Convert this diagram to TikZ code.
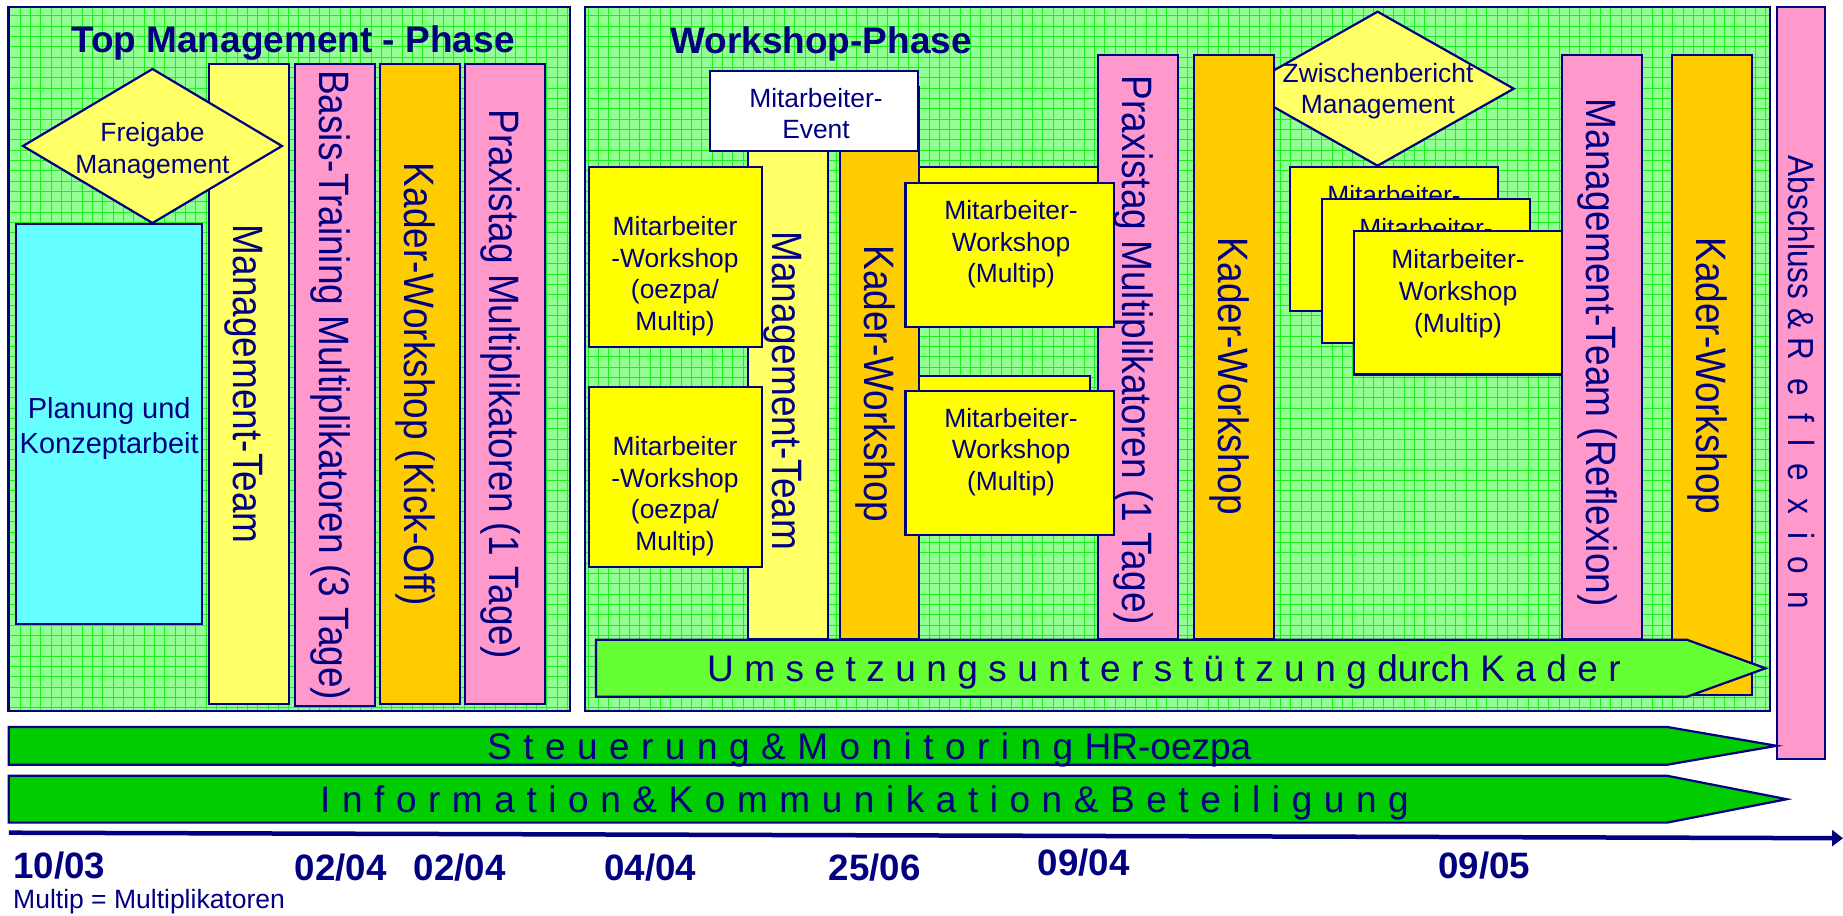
\documentclass[tikz,border=0pt]{standalone}
\usepackage{fontspec}
\setmainfont{Liberation Sans}
\usepackage{graphicx}
\usetikzlibrary{arrows.meta}
\definecolor{navy}{RGB}{0,0,128}
\definecolor{ltyellow}{RGB}{255,255,102}
\definecolor{pinkbar}{RGB}{255,153,204}
\definecolor{orangebar}{RGB}{255,204,0}
\definecolor{cyanbox}{RGB}{102,255,255}
\definecolor{yelbox}{RGB}{255,255,0}
\definecolor{limebar}{RGB}{102,255,51}
\definecolor{greenbar}{RGB}{0,204,0}
\definecolor{bggreen}{RGB}{145,255,145}
\definecolor{gridgreen}{RGB}{30,240,30}
\newcommand\vstretch[1]{\scalebox{1}[1.15]{#1}}
\newcommand\mkbox[6]{\node[blk,#2,minimum width={(#5)-(#3)},minimum height={(#6)-(#4)}] (#1) at (#3,#4) {};}
\tikzset{
  blk/.style={draw=navy, line width=2.2pt, inner sep=0pt, outer sep=0pt, anchor=north west},
  dia/.style={draw=navy, line width=2.2pt, fill=ltyellow, line join=miter},
  vtxt/.style={rotate=-90, anchor=base, text=navy, inner sep=0pt, font=\fontsize{37}{44}\selectfont},
  btxt/.style={text=navy, align=center, anchor=north, inner sep=0pt, font=\fontsize{26.4}{31.7}\selectfont},
  ptxt/.style={text=navy, align=center, anchor=north, inner sep=0pt, font=\fontsize{29}{35}\selectfont},
  ttl/.style={text=navy, anchor=base west, inner sep=0pt, font=\fontsize{37}{44}\selectfont\bfseries},
  datel/.style={text=navy, anchor=base west, inner sep=0pt, font=\fontsize{36.7}{44}\selectfont\bfseries},
  bantxt/.style={text=navy, anchor=base west, inner sep=0pt},
  banner/.style={draw=navy, line width=2.2pt, line join=miter},
  gridln/.style={draw=gridgreen, line width=0.9pt},
  timeline/.style={draw=navy, line width=4.5pt, -{Triangle[length=11pt,width=16pt]}}
}
\begin{document}
\begin{tikzpicture}[x=1pt,y=-1pt]
\useasboundingbox (0,0) rectangle (1843,915);
% ---------- panel backgrounds with grid ----------
\begin{scope}
  \clip (8.5,6.7) rectangle (570,711) (585,6.7) rectangle (1770,711);
  \fill[bggreen] (0,0) rectangle (1843,720);
  \foreach \k in {0,...,172} \draw[gridln] ({9.7+10.33*\k},0) -- ++(0,720);
  \foreach \k in {0,...,69} \draw[gridln] (0,{5.4+10.33*\k}) -- ++(1843,0);
\end{scope}
\mkbox{panelL}{}{8.5}{6.7}{570}{711}
\mkbox{panelW}{}{585}{6.7}{1770}{711}
\node[ttl] (ttlL) at (71,53) {Top Management - Phase};
\node[ttl] (ttlW) at (670,53.3) {Workshop-Phase};
% ---------- left panel ----------
\mkbox{mgmtL}{fill=ltyellow}{208.6}{64.3}{288.7}{704}
\node[vtxt] (mgmtLT) at (233.1,384.2) {\vstretch{Management-Team}};
\draw[dia] (23,146) -- (152.5,69) -- (282,146) -- (152.5,223) -- cycle;
\node[btxt] (freiT) at (152.5,122) {Freigabe\\Management};
\mkbox{plan}{fill=cyanbox}{16}{224}{202.3}{624}
\node[ptxt] (planT) at (109.2,397.5) {Planung und\\Konzeptarbeit};
\mkbox{basis}{fill=pinkbar}{294.7}{64.3}{375}{706}
\node[vtxt] (basisT) at (319.2,385.2) {\vstretch{Basis-Training Multiplikatoren (3 Tage)}};
\mkbox{kickoff}{fill=orangebar}{379.6}{64.3}{460}{704}
\node[vtxt] (kickoffT) at (404.1,384.2) {\vstretch{Kader-Workshop (Kick-Off)}};
\mkbox{praxL}{fill=pinkbar}{465}{64.3}{544.6}{704}
\node[vtxt] (praxLT) at (489.5,384.2) {\vstretch{Praxistag Multiplikatoren (1 Tage)}};
% ---------- workshop panel ----------
\mkbox{mgmtM}{fill=ltyellow}{748}{100}{828}{639.3}
\node[vtxt] (mgmtMT) at (772.5,390.9) {\vstretch{Management-Team}};
\mkbox{backT}{fill=yelbox}{880}{166.7}{1105}{310}
\mkbox{backB}{fill=yelbox}{880}{376}{1090}{520}
\mkbox{kaderM1}{fill=orangebar}{839.8}{86.7}{919.3}{639.3}
\node[vtxt] (kaderM1T) at (864.3,383.8) {\vstretch{Kader-Workshop}};
\mkbox{praxM}{fill=pinkbar}{1098}{55}{1178}{639.3}
\node[vtxt] (praxMT) at (1122.5,350.5) {\vstretch{Praxistag Multiplikatoren (1 Tage)}};
\mkbox{frontT}{fill=yelbox}{905.4}{182.7}{1113.8}{326.7}
\node[btxt] (frontTT) at (1011,200.1) {Mitarbeiter-\\Workshop\\(Multip)};
\mkbox{frontB}{fill=yelbox}{905.4}{390.7}{1113.8}{535.3}
\node[btxt] (frontBT) at (1011,407.8) {Mitarbeiter-\\Workshop\\(Multip)};
\mkbox{event}{fill=white}{709.7}{70.7}{918}{150.7}
\node[btxt] (eventT) at (816,87.8) {Mitarbeiter-\\Event};
\mkbox{mwL1}{fill=yelbox}{588.7}{166.7}{761.9}{346.7}
\node[btxt] (mwL1T) at (675,216.1) {Mitarbeiter\\-Workshop\\(oezpa/\\Multip)};
\mkbox{mwL2}{fill=yelbox}{588.7}{386.7}{761.9}{566.7}
\node[btxt] (mwL2T) at (675,436.1) {Mitarbeiter\\-Workshop\\(oezpa/\\Multip)};
\draw[dia] (1241.5,88.7) -- (1377.6,11.7) -- (1513.7,88.7) -- (1377.6,165.7) -- cycle;
\mkbox{kaderM2}{fill=orangebar}{1194}{55}{1274}{639.3}
\node[vtxt] (kaderM2T) at (1218.5,376.3) {\vstretch{Kader-Workshop}};
\node[btxt] (zwT) at (1378,62.8) {Zwischenbericht\\Management};
\mkbox{mwA}{fill=yelbox}{1290}{166.7}{1498.3}{311}
\node[btxt] (mwAT) at (1394,185.4) {Mitarbeiter-\\Workshop\\(Multip)};
\mkbox{mwB}{fill=yelbox}{1321.7}{199}{1530}{342.7}
\node[btxt] (mwBT) at (1426,217.7) {Mitarbeiter-\\Workshop\\(Multip)};
\mkbox{mwC}{fill=yelbox}{1354}{230.7}{1561.7}{374.5}
\node[btxt] (mwCT) at (1458,249.4) {Mitarbeiter-\\Workshop\\(Multip)};
\mkbox{reflex}{fill=pinkbar}{1561.7}{55}{1642}{639.3}
\node[vtxt] (reflexT) at (1586.2,352.7) {\vstretch{Management-Team (Reflexion)}};
\mkbox{kaderR}{fill=orangebar}{1671.7}{55}{1751.6}{695}
\node[vtxt] (kaderRT) at (1696.2,376) {\vstretch{Kader-Workshop}};
\draw[banner, fill=limebar] (596,639.7) -- (1686.7,639.7) -- (1765.5,668.3) -- (1686.7,696.8) -- (596,696.8) -- cycle;
\node[bantxt, font={\fontsize{37}{44}\selectfont\spaceskip=0.2824em\relax}] (umsT) at (707,681.7) {U m s e t z u n g s u n t e r s t ü t z u n g durch K a d e r};
% ---------- closing bar ----------
\mkbox{absch}{fill=pinkbar}{1776.7}{6.7}{1825}{759}
\node[vtxt, font=\fontsize{31.5}{38}\selectfont] (abschT) at (1788,382.5) {\vstretch{Abschluss \& R~~e~~f~~l~~e~~x~~i~~o~~n}};
% ---------- long banners ----------
\draw[banner, fill=greenbar] (8.8,727) -- (1667.3,727) -- (1776.7,745.8) -- (1667.3,764.7) -- (8.8,764.7) -- cycle;
\node[bantxt, font={\fontsize{37}{44}\selectfont\spaceskip=0.31em\relax}] (steuT) at (487,759.3) {S t e u e r u n g \& M o n i t o r i n g HR-oezpa};
\draw[banner, fill=greenbar] (8.8,775.8) -- (1667.3,775.8) -- (1786.7,799.2) -- (1667.3,822.6) -- (8.8,822.6) -- cycle;
\node[bantxt, font={\fontsize{37}{44}\selectfont\spaceskip=0.3124em\relax}] (infoT) at (320,812.3) {I n f o r m a t i o n \& K o m m u n i k a t i o n \& B e t e i l i g u n g};
% ---------- timeline ----------
\coordinate (tlA) at (8.8,832.7);
\coordinate (tlB) at (1843,838.2);
\draw[timeline] (tlA) -- (tlB);
\node[datel] (d1) at (13,878.3) {10/03};
\node[datel] (d2) at (294.5,880) {02/04};
\node[datel] (d3) at (413.6,880) {02/04};
\node[datel] (d4) at (604,880) {04/04};
\node[datel] (d5) at (828.4,880) {25/06};
\node[datel] (d6) at (1037.7,875) {09/04};
\node[datel] (d7) at (1438,878) {09/05};
\node[bantxt, font=\fontsize{26.5}{32}\selectfont] (note) at (13,908) {Multip = Multiplikatoren};
\end{tikzpicture}
\end{document}
